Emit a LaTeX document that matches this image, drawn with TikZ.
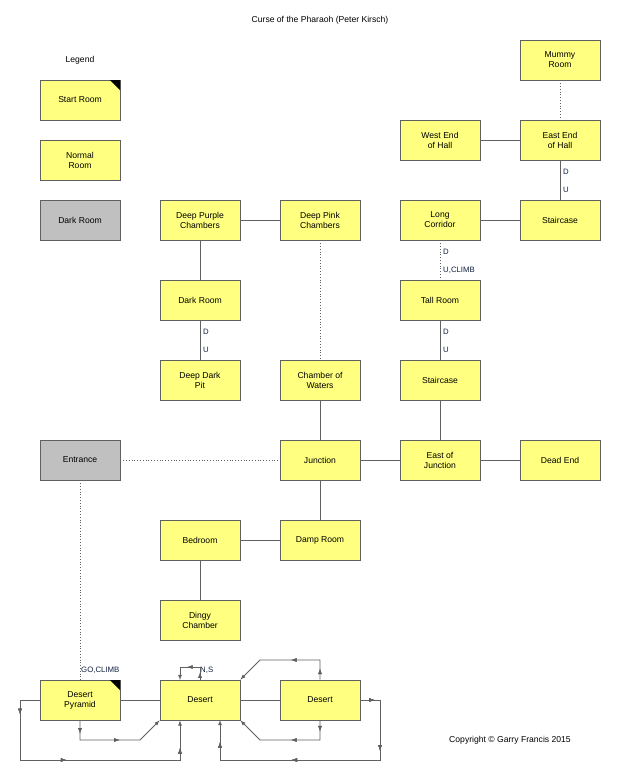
\documentclass[tikz,border=0pt]{standalone}
\usepackage{fontspec}
\setmainfont{Liberation Sans}
\usetikzlibrary{decorations.markings}
\definecolor{boxfill}{HTML}{FFFF80}
\definecolor{darkfill}{HTML}{C0C0C0}
\definecolor{linec}{HTML}{606060}
\definecolor{labc}{HTML}{102040}
\begin{document}
\begin{tikzpicture}[x=1pt,y=-1pt,
  every node/.style={font=\fontsize{8.6}{10}\selectfont},
  room/.style={draw=linec,fill=boxfill,minimum width=80pt,minimum height=40pt,align=center,inner sep=0pt,line width=0.8pt},
  dark/.style={room,fill=darkfill},
  con/.style={draw=linec,line width=0.8pt},
  dot/.style={draw=linec,line width=0.8pt,dotted},
  lab/.style={text=labc,inner sep=1pt,font=\fontsize{7.8}{9}\selectfont},
  ar/.style={decoration={markings,mark=at position #1 with {\arrow{latex}}},postaction=decorate},
  loop/.style={draw=linec,line width=0.8pt,-latex},
  corner/.style={fill=black}]
\useasboundingbox (0,0) rectangle (620,780);
\node (title) at (320,20) {Curse of the Pharaoh (Peter Kirsch)};
\node (legend) at (80,60) {Legend};
\node[room] (start) at (80,100) {Start Room};
\fill[corner] (120,80) -- (110,80) -- (120,90) -- cycle;
\node[room] (normal) at (80,160) {Normal\\Room};
\node[dark] (darkleg) at (80,220) {Dark Room};
\node[room] (mummy) at (560,60) {Mummy\\Room};
\node[room] (westend) at (440,140) {West End\\of Hall};
\node[room] (eastend) at (560,140) {East End\\of Hall};
\node[room] (stair1) at (560,220) {Staircase};
\node[room] (longc) at (440,220) {Long\\Corridor};
\node[room] (purple) at (200,220) {Deep Purple\\Chambers};
\node[room] (pink) at (320,220) {Deep Pink\\Chambers};
\node[room] (darkroom) at (200,300) {Dark Room};
\node[room] (tall) at (440,300) {Tall Room};
\node[room] (pit) at (200,380) {Deep Dark\\Pit};
\node[room] (waters) at (320,380) {Chamber of\\Waters};
\node[room] (stair2) at (440,380) {Staircase};
\node[dark] (entrance) at (80,460) {Entrance};
\node[room] (junction) at (320,460) {Junction};
\node[room] (eastj) at (440,460) {East of\\Junction};
\node[room] (deadend) at (560,460) {Dead End};
\node[room] (bedroom) at (200,540) {Bedroom};
\node[room] (damp) at (320,540) {Damp Room};
\node[room] (dingy) at (200,620) {Dingy\\Chamber};
\node[room] (pyramid) at (80,700) {Desert\\Pyramid};
\fill[corner] (120,680) -- (110,680) -- (120,690) -- cycle;
\node[room] (desert) at (200,700) {Desert};
\node[room] (desert2) at (320,700) {Desert};
\node (copy) at (510,740) {Copyright © Garry Francis 2015};

\path[dot] (mummy) -- (eastend);
\path[con] (westend) -- (eastend);
\path[con] (eastend) -- (stair1);
\node[lab,anchor=west] (l1) at (562,172) {D};
\node[lab,anchor=west] (l2) at (562,190) {U};
\path[con] (longc) -- (stair1);
\path[con] (purple) -- (pink);
\path[con] (purple) -- (darkroom);
\path[dot] (pink) -- (waters);
\path[dot] (longc) -- (tall);
\node[lab,anchor=west] (l3) at (442,252) {D};
\node[lab,anchor=west] (l4) at (442,270) {U,CLIMB};
\path[con] (darkroom) -- (pit);
\node[lab,anchor=west] (l5) at (202,332) {D};
\node[lab,anchor=west] (l6) at (202,350) {U};
\path[con] (tall) -- (stair2);
\node[lab,anchor=west] (l7) at (442,332) {D};
\node[lab,anchor=west] (l8) at (442,350) {U};
\path[con] (waters) -- (junction);
\path[dot] (entrance) -- (junction);
\path[con] (junction) -- (eastj);
\path[con] (eastj) -- (deadend);
\path[con] (stair2) -- (eastj);
\path[con] (junction) -- (damp);
\path[con] (bedroom) -- (damp);
\path[con] (bedroom) -- (dingy);
\path[dot] (entrance) -- (pyramid);
\node[lab,anchor=west] (l9) at (80,670) {GO,CLIMB};
\path[con] (pyramid) -- (desert);
\path[con] (desert) -- (desert2);
\node[lab,anchor=west] (l10) at (199,670) {N,S};

% loops
\draw[con,ar=0.12,ar=0.45,ar=0.9,-latex] (pyramid.west) -- (20,700) -- (20,760) -- (180,760) -- (desert.south west -| 180,720);
\draw[con,ar=0.12,ar=0.55,-latex] (pyramid.south) -- (80,740) -- (140,740) -- (desert.south west);
\draw[con,ar=0.15,ar=0.55,-latex] (desert.north) -- (200,667) -- (180,667) -- (180,680);
\draw[con,ar=0.1,ar=0.45,-latex] (desert2.north) -- (320,660) -- (260,660) -- (desert.north east);
\draw[con,ar=0.1,ar=0.45,-latex] (desert2.south) -- (320,740) -- (260,740) -- (desert.south east);
\draw[con,ar=0.05,ar=0.25,ar=0.6,ar=0.92,-latex] (desert2.east) -- (380,700) -- (380,760) -- (220,760) -- (220,720);
\end{tikzpicture}
\end{document}
